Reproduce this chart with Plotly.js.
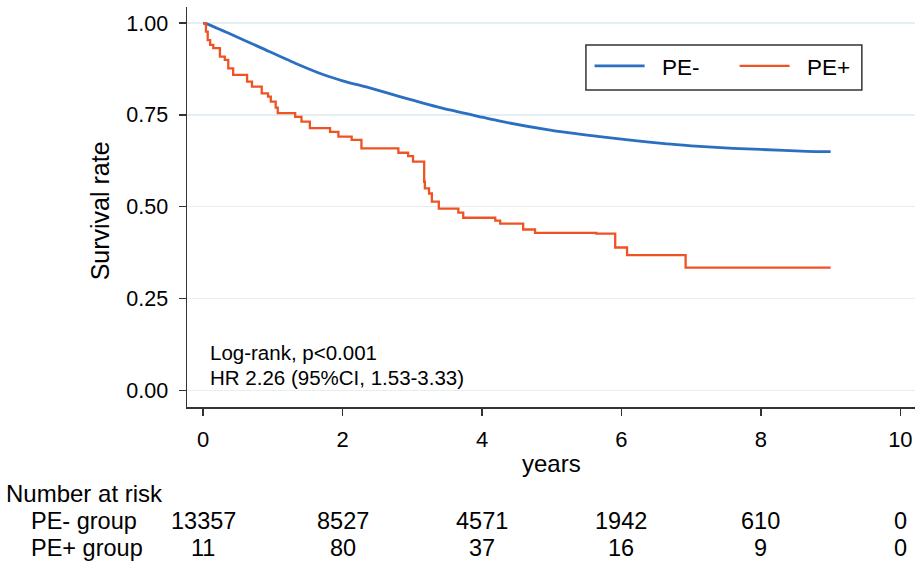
<!DOCTYPE html>
<html>
<head>
<meta charset="utf-8">
<script src="https://cdn.plot.ly/plotly-3.0.1.min.js"></script>
<style>
  html, body { margin: 0; padding: 0; background: #ffffff; }
  #chart { width: 919px; height: 563px; }
</style>
</head>
<body>
<div id="chart"></div>
<script>
// Kaplan-Meier survival estimates by PE status
const peNegYears = [0, 0.05, 0.36, 0.84, 1.32, 1.75, 2.0, 2.4, 2.82, 3.4, 4.0, 4.26, 5.0, 5.69, 6.0, 6.65, 7.0, 7.6, 8.0, 8.66, 9.0];
const peNegSurv  = [1.0, 0.998, 0.973, 0.932, 0.891, 0.858, 0.843, 0.823, 0.800, 0.770, 0.744, 0.733, 0.708, 0.691, 0.684, 0.671, 0.666, 0.659, 0.656, 0.651, 0.650];

const pePosYears = [0, 0.04, 0.065, 0.10, 0.145, 0.24, 0.31, 0.36, 0.43, 0.63, 0.70, 0.84, 0.93, 0.97, 1.04, 1.07, 1.32, 1.41, 1.53, 1.82, 1.94, 2.13, 2.27, 2.80, 2.94, 3.01, 3.17, 3.18, 3.24, 3.28, 3.38, 3.66, 3.73, 4.19, 4.26, 4.59, 4.76, 5.64, 5.91, 6.08, 6.92, 9.0];
const pePosSurv  = [1.0, 0.977, 0.954, 0.941, 0.932, 0.909, 0.900, 0.877, 0.859, 0.841, 0.827, 0.809, 0.800, 0.786, 0.770, 0.755, 0.745, 0.732, 0.714, 0.704, 0.691, 0.682, 0.659, 0.647, 0.638, 0.623, 0.568, 0.550, 0.536, 0.514, 0.495, 0.484, 0.470, 0.462, 0.454, 0.438, 0.429, 0.427, 0.389, 0.368, 0.334, 0.334];

// Number-at-risk table
const riskYears = [0, 2, 4, 6, 8, 10];
const riskPENeg = [13357, 8527, 4571, 1942, 610, 0];
const riskPEPos = [11, 80, 37, 16, 9, 0];

const yTicks = [0, 0.25, 0.5, 0.75, 1.0];
const yTickText = ['0.00', '0.25', '0.50', '0.75', '1.00'];

const FONT = 'Liberation Sans, Arial, sans-serif';
const BLUE = '#2b6fc0';
const ORANGE = '#f05323';
const NBSP2 = '\u00a0\u00a0';

const traces = [
  {
    x: peNegYears, y: peNegSurv, name: NBSP2 + 'PE-', type: 'scatter', mode: 'lines',
    line: { color: BLUE, width: 2.8, shape: 'spline', smoothing: 0.6 }
  },
  {
    x: pePosYears, y: pePosSurv, name: NBSP2 + 'PE+', type: 'scatter', mode: 'lines',
    line: { color: ORANGE, width: 2.3, shape: 'hv' }
  }
];

function label(text, xref, x, y, size, extra) {
  return Object.assign({
    text: text, xref: xref, yref: 'paper', x: x, y: y,
    xanchor: 'center', yanchor: 'middle', showarrow: false,
    font: { family: FONT, size: size, color: '#000' }
  }, extra || {});
}

const annotations = [
  label('Survival rate', 'paper', -0.119, 0.49, 25, { textangle: -90 }),
  label('years', 'x', 5.0, -0.141, 24),
  label('Log-rank, p<0.001', 'x', 0.07, 0.104, 20.5, { yref: 'y', xanchor: 'left' }),
  label('HR 2.26 (95%CI, 1.53-3.33)', 'x', 0.07, 0.036, 20.5, { yref: 'y', xanchor: 'left' }),
  label('Number at risk', 'paper', -0.252, -0.215, 24, { xanchor: 'left' }),
  label('PE- group', 'paper', -0.217, -0.284, 23.5, { xanchor: 'left' }),
  label('PE+ group', 'paper', -0.217, -0.353, 23.5, { xanchor: 'left' })
];

riskYears.forEach((yr, i) => {
  annotations.push(label(String(riskPENeg[i]), 'x', yr, -0.284, 23.5));
  annotations.push(label(String(riskPEPos[i]), 'x', yr, -0.353, 23.5));
});

const layout = {
  width: 919, height: 563,
  margin: { l: 187, r: 4, t: 7, b: 156, pad: 0, autoexpand: false },
  paper_bgcolor: '#ffffff', plot_bgcolor: '#ffffff',
  showlegend: true,
  legend: {
    orientation: 'h', xref: 'paper', yref: 'paper',
    x: 0.553, y: 0.852, xanchor: 'left', yanchor: 'middle',
    borderwidth: 0, bgcolor: 'rgba(0,0,0,0)',
    font: { family: FONT, size: 22.5, color: '#000' },
    itemwidth: 50, entrywidth: 80, entrywidthmode: 'pixels',
    tracegroupgap: 0
  },
  // legend frame
  shapes: [{
    type: 'rect', xref: 'paper', yref: 'paper',
    x0: 0.548, x1: 0.927, y0: 0.7925, y1: 0.905,
    line: { color: '#333', width: 1.5 }, fillcolor: 'rgba(0,0,0,0)', layer: 'above'
  }],
  xaxis: {
    range: [-0.232, 10.21], tickvals: riskYears, ticktext: riskYears.map(String),
    showgrid: false, zeroline: false, showline: true, linecolor: '#333', linewidth: 1.5,
    ticks: 'outside', ticklen: 7, tickwidth: 1.5, tickcolor: '#333',
    ticklabelstandoff: 5,
    tickfont: { family: FONT, size: 22, color: '#000' }
  },
  yaxis: {
    range: [-0.0455, 1.044], tickvals: yTicks, ticktext: yTickText,
    showgrid: true, gridcolor: '#e5eef2', gridwidth: 1.5,
    zeroline: false, showline: true, linecolor: '#333', linewidth: 1.5,
    ticks: 'outside', ticklen: 7, tickwidth: 1.5, tickcolor: '#333',
    ticklabelstandoff: 6,
    tickfont: { family: FONT, size: 21.5, color: '#000' }
  },
  annotations: annotations
};

Plotly.newPlot('chart', traces, layout, { staticPlot: true, displayModeBar: false });
</script>
</body>
</html>
